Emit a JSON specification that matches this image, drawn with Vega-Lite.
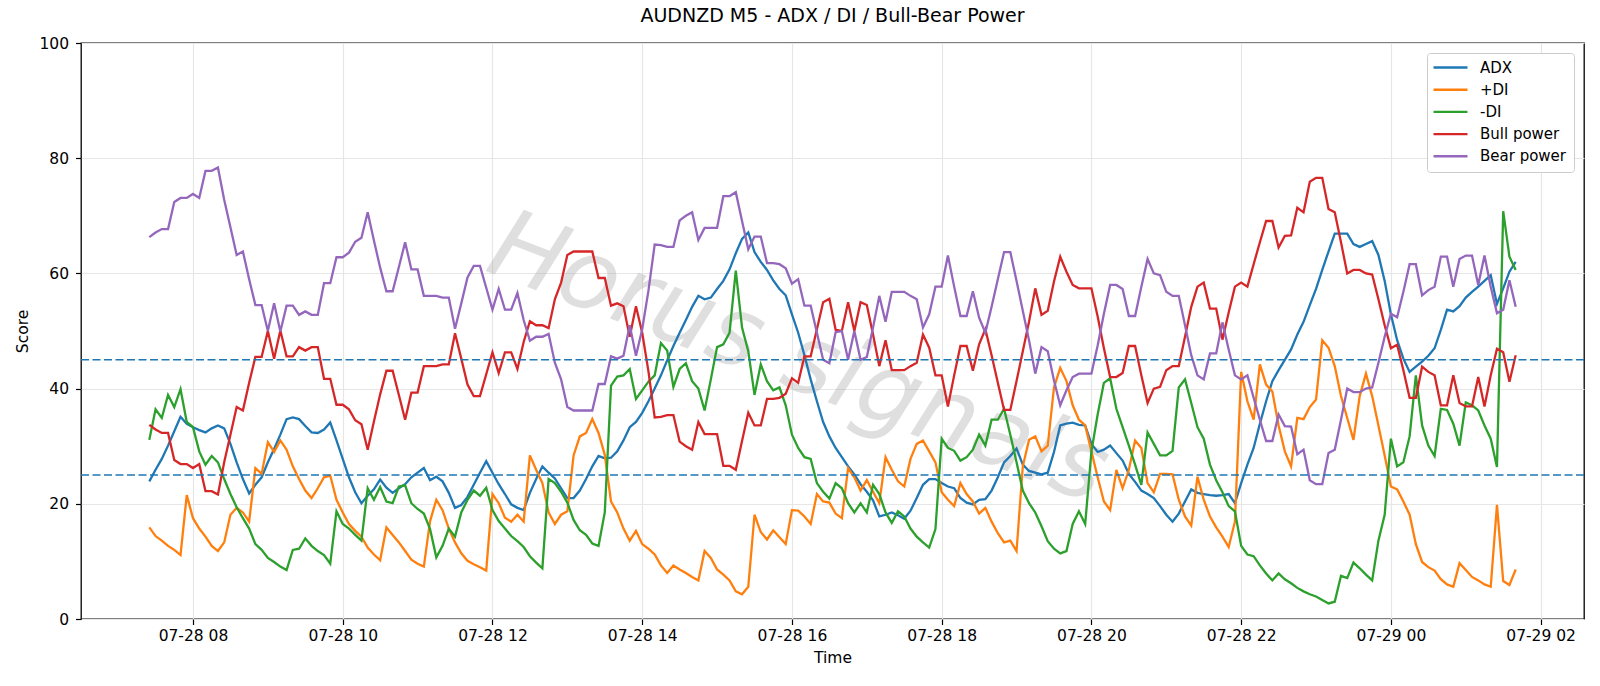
{
  "$schema": "https://vega.github.io/schema/vega-lite/v6.json",
  "width": 1503,
  "height": 576,
  "autosize": {"type": "none"},
  "padding": {"left": 81, "top": 43, "right": 16, "bottom": 67},
  "background": "white",
  "title": {"text": "AUDNZD M5 - ADX / DI / Bull-Bear Power", "font": "DejaVu Sans", "fontSize": 19, "fontWeight": "normal", "color": "#000000", "offset": 10, "anchor": "middle"},
  "config": {
    "font": "DejaVu Sans",
    "view": {"stroke": "#000000", "strokeWidth": 1.3},
    "axis": {"domain": false, "grid": true, "gridColor": "#e6e6e6", "gridWidth": 1.2, "tickColor": "#000000", "tickWidth": 1.2, "tickSize": 5.5, "labelFont": "DejaVu Sans", "labelFontSize": 15.5, "labelColor": "#000000", "titleFont": "DejaVu Sans", "titleFontSize": 15.5, "titleFontWeight": "normal", "titleColor": "#000000"},
    "axisX": {"labelPadding": 4, "titlePadding": 6, "labelFlush": false, "labelOverlap": false},
    "axisY": {"labelPadding": 7, "titlePadding": 8},
    "legend": {"orient": "top-right", "offset": 10, "symbolType": "M-2.83,0H2.83", "symbolSize": 144, "symbolOffset": 9, "symbolStrokeWidth": 2.4, "labelFont": "DejaVu Sans", "labelFontSize": 15, "labelColor": "#000000", "labelOffset": 22, "rowPadding": 6.2, "padding": 7, "strokeColor": "#cccccc", "fillColor": "#ffffff", "cornerRadius": 3, "labelLimit": 300}
  },
  "datasets": {
    "d": [
      {"t":"2025-07-28T07:25:00Z","adx":23.9,"pdi":15.9,"mdi":31.1,"bull":33.7,"bear":66.3},
      {"t":"2025-07-28T07:30:00Z","adx":25.9,"pdi":14.4,"mdi":36.4,"bull":32.9,"bear":67.1},
      {"t":"2025-07-28T07:35:00Z","adx":27.8,"pdi":13.6,"mdi":34.9,"bull":32.3,"bear":67.7},
      {"t":"2025-07-28T07:40:00Z","adx":30.1,"pdi":12.7,"mdi":38.9,"bull":32.3,"bear":67.7},
      {"t":"2025-07-28T07:45:00Z","adx":32.6,"pdi":12.0,"mdi":36.8,"bull":27.6,"bear":72.4},
      {"t":"2025-07-28T07:50:00Z","adx":35.1,"pdi":11.1,"mdi":39.9,"bull":26.9,"bear":73.1},
      {"t":"2025-07-28T07:55:00Z","adx":33.9,"pdi":21.5,"mdi":34.2,"bull":26.9,"bear":73.1},
      {"t":"2025-07-28T08:00:00Z","adx":33.3,"pdi":17.5,"mdi":33.3,"bull":26.2,"bear":73.8},
      {"t":"2025-07-28T08:05:00Z","adx":32.8,"pdi":15.7,"mdi":29.1,"bull":26.9,"bear":73.1},
      {"t":"2025-07-28T08:10:00Z","adx":32.4,"pdi":14.3,"mdi":26.8,"bull":22.2,"bear":77.8},
      {"t":"2025-07-28T08:15:00Z","adx":33.1,"pdi":12.7,"mdi":28.3,"bull":22.2,"bear":77.8},
      {"t":"2025-07-28T08:20:00Z","adx":33.6,"pdi":11.8,"mdi":27.2,"bull":21.6,"bear":78.4},
      {"t":"2025-07-28T08:25:00Z","adx":33.1,"pdi":13.3,"mdi":24.3,"bull":27.2,"bear":72.8},
      {"t":"2025-07-28T08:30:00Z","adx":30.4,"pdi":18.1,"mdi":21.7,"bull":32.0,"bear":68.0},
      {"t":"2025-07-28T08:35:00Z","adx":27.2,"pdi":19.3,"mdi":19.4,"bull":36.8,"bear":63.2},
      {"t":"2025-07-28T08:40:00Z","adx":24.3,"pdi":18.5,"mdi":17.5,"bull":36.2,"bear":63.8},
      {"t":"2025-07-28T08:45:00Z","adx":21.8,"pdi":16.9,"mdi":15.7,"bull":41.0,"bear":59.0},
      {"t":"2025-07-28T08:50:00Z","adx":23.3,"pdi":26.2,"mdi":13.0,"bull":45.5,"bear":54.5},
      {"t":"2025-07-28T08:55:00Z","adx":24.6,"pdi":25.2,"mdi":12.0,"bull":45.5,"bear":54.5},
      {"t":"2025-07-28T09:00:00Z","adx":27.2,"pdi":30.7,"mdi":10.6,"bull":50.0,"bear":50.0},
      {"t":"2025-07-28T09:05:00Z","adx":29.5,"pdi":29.0,"mdi":9.9,"bull":45.2,"bear":54.8},
      {"t":"2025-07-28T09:10:00Z","adx":32.0,"pdi":31.0,"mdi":9.1,"bull":50.1,"bear":49.9},
      {"t":"2025-07-28T09:15:00Z","adx":34.7,"pdi":29.4,"mdi":8.5,"bull":45.6,"bear":54.4},
      {"t":"2025-07-28T09:20:00Z","adx":35.0,"pdi":26.5,"mdi":12.0,"bull":45.6,"bear":54.4},
      {"t":"2025-07-28T09:25:00Z","adx":34.7,"pdi":24.3,"mdi":12.2,"bull":47.2,"bear":52.8},
      {"t":"2025-07-28T09:30:00Z","adx":33.5,"pdi":22.3,"mdi":14.0,"bull":46.6,"bear":53.4},
      {"t":"2025-07-28T09:35:00Z","adx":32.4,"pdi":21.0,"mdi":12.7,"bull":47.2,"bear":52.8},
      {"t":"2025-07-28T09:40:00Z","adx":32.3,"pdi":22.7,"mdi":11.8,"bull":47.2,"bear":52.8},
      {"t":"2025-07-28T09:45:00Z","adx":32.9,"pdi":24.6,"mdi":11.1,"bull":41.7,"bear":58.3},
      {"t":"2025-07-28T09:50:00Z","adx":34.1,"pdi":24.9,"mdi":9.6,"bull":41.7,"bear":58.3},
      {"t":"2025-07-28T09:55:00Z","adx":31.0,"pdi":20.7,"mdi":18.7,"bull":37.2,"bear":62.8},
      {"t":"2025-07-28T10:00:00Z","adx":27.8,"pdi":18.5,"mdi":16.5,"bull":37.2,"bear":62.8},
      {"t":"2025-07-28T10:05:00Z","adx":24.6,"pdi":16.5,"mdi":15.7,"bull":36.4,"bear":63.6},
      {"t":"2025-07-28T10:10:00Z","adx":22.0,"pdi":15.3,"mdi":14.6,"bull":34.5,"bear":65.5},
      {"t":"2025-07-28T10:15:00Z","adx":20.1,"pdi":14.3,"mdi":13.6,"bull":33.8,"bear":66.2},
      {"t":"2025-07-28T10:20:00Z","adx":21.4,"pdi":12.4,"mdi":22.7,"bull":29.4,"bear":70.6},
      {"t":"2025-07-28T10:25:00Z","adx":22.5,"pdi":11.2,"mdi":20.7,"bull":34.3,"bear":65.7},
      {"t":"2025-07-28T10:30:00Z","adx":24.2,"pdi":10.2,"mdi":22.9,"bull":39.0,"bear":61.0},
      {"t":"2025-07-28T10:35:00Z","adx":22.8,"pdi":15.9,"mdi":20.4,"bull":43.1,"bear":56.9},
      {"t":"2025-07-28T10:40:00Z","adx":21.9,"pdi":14.6,"mdi":20.1,"bull":43.1,"bear":56.9},
      {"t":"2025-07-28T10:45:00Z","adx":22.7,"pdi":13.3,"mdi":23.0,"bull":38.9,"bear":61.1},
      {"t":"2025-07-28T10:50:00Z","adx":23.4,"pdi":11.8,"mdi":23.2,"bull":34.6,"bear":65.4},
      {"t":"2025-07-28T10:55:00Z","adx":24.6,"pdi":10.3,"mdi":20.1,"bull":39.3,"bear":60.7},
      {"t":"2025-07-28T11:00:00Z","adx":25.4,"pdi":9.6,"mdi":19.1,"bull":39.3,"bear":60.7},
      {"t":"2025-07-28T11:05:00Z","adx":26.2,"pdi":9.1,"mdi":18.3,"bull":43.9,"bear":56.1},
      {"t":"2025-07-28T11:10:00Z","adx":24.1,"pdi":17.0,"mdi":15.6,"bull":43.9,"bear":56.1},
      {"t":"2025-07-28T11:15:00Z","adx":24.7,"pdi":20.7,"mdi":10.7,"bull":43.9,"bear":56.1},
      {"t":"2025-07-28T11:20:00Z","adx":23.9,"pdi":18.9,"mdi":12.7,"bull":44.2,"bear":55.8},
      {"t":"2025-07-28T11:25:00Z","adx":21.9,"pdi":15.7,"mdi":15.7,"bull":44.2,"bear":55.8},
      {"t":"2025-07-28T11:30:00Z","adx":19.3,"pdi":13.3,"mdi":14.3,"bull":49.6,"bear":50.4},
      {"t":"2025-07-28T11:35:00Z","adx":19.8,"pdi":11.4,"mdi":18.5,"bull":45.2,"bear":54.8},
      {"t":"2025-07-28T11:40:00Z","adx":21.2,"pdi":10.1,"mdi":20.7,"bull":40.7,"bear":59.3},
      {"t":"2025-07-28T11:45:00Z","adx":23.3,"pdi":9.5,"mdi":22.3,"bull":38.7,"bear":61.3},
      {"t":"2025-07-28T11:50:00Z","adx":25.4,"pdi":9.0,"mdi":21.4,"bull":38.7,"bear":61.3},
      {"t":"2025-07-28T11:55:00Z","adx":27.4,"pdi":8.4,"mdi":22.8,"bull":42.5,"bear":57.5},
      {"t":"2025-07-28T12:00:00Z","adx":25.4,"pdi":21.7,"mdi":18.9,"bull":46.3,"bear":53.7},
      {"t":"2025-07-28T12:05:00Z","adx":23.4,"pdi":20.1,"mdi":17.0,"bull":42.7,"bear":57.3},
      {"t":"2025-07-28T12:10:00Z","adx":21.7,"pdi":17.6,"mdi":15.7,"bull":46.3,"bear":53.7},
      {"t":"2025-07-28T12:15:00Z","adx":19.9,"pdi":16.9,"mdi":14.4,"bull":46.3,"bear":53.7},
      {"t":"2025-07-28T12:20:00Z","adx":19.3,"pdi":18.1,"mdi":13.5,"bull":43.4,"bear":56.6},
      {"t":"2025-07-28T12:25:00Z","adx":18.9,"pdi":16.9,"mdi":12.5,"bull":48.1,"bear":51.9},
      {"t":"2025-07-28T12:30:00Z","adx":21.9,"pdi":28.4,"mdi":10.9,"bull":51.7,"bear":48.3},
      {"t":"2025-07-28T12:35:00Z","adx":24.3,"pdi":25.9,"mdi":9.8,"bull":51.0,"bear":49.0},
      {"t":"2025-07-28T12:40:00Z","adx":26.5,"pdi":23.6,"mdi":8.8,"bull":51.0,"bear":49.0},
      {"t":"2025-07-28T12:45:00Z","adx":25.4,"pdi":18.5,"mdi":24.3,"bull":50.5,"bear":49.5},
      {"t":"2025-07-28T12:50:00Z","adx":24.4,"pdi":16.5,"mdi":23.6,"bull":55.5,"bear":44.5},
      {"t":"2025-07-28T12:55:00Z","adx":22.7,"pdi":18.1,"mdi":22.1,"bull":58.4,"bear":41.6},
      {"t":"2025-07-28T13:00:00Z","adx":21.0,"pdi":18.7,"mdi":20.2,"bull":63.2,"bear":36.8},
      {"t":"2025-07-28T13:05:00Z","adx":21.0,"pdi":28.4,"mdi":17.2,"bull":63.8,"bear":36.2},
      {"t":"2025-07-28T13:10:00Z","adx":22.3,"pdi":31.7,"mdi":15.4,"bull":63.8,"bear":36.2},
      {"t":"2025-07-28T13:15:00Z","adx":24.3,"pdi":32.3,"mdi":14.6,"bull":63.8,"bear":36.2},
      {"t":"2025-07-28T13:20:00Z","adx":26.5,"pdi":34.7,"mdi":13.1,"bull":63.8,"bear":36.2},
      {"t":"2025-07-28T13:25:00Z","adx":28.3,"pdi":32.3,"mdi":12.7,"bull":59.2,"bear":40.8},
      {"t":"2025-07-28T13:30:00Z","adx":27.9,"pdi":28.5,"mdi":18.5,"bull":59.2,"bear":40.8},
      {"t":"2025-07-28T13:35:00Z","adx":28.0,"pdi":20.4,"mdi":40.5,"bull":54.4,"bear":45.6},
      {"t":"2025-07-28T13:40:00Z","adx":29.1,"pdi":18.5,"mdi":42.1,"bull":54.8,"bear":45.2},
      {"t":"2025-07-28T13:45:00Z","adx":31.0,"pdi":15.7,"mdi":42.3,"bull":54.3,"bear":45.7},
      {"t":"2025-07-28T13:50:00Z","adx":33.3,"pdi":13.6,"mdi":43.4,"bull":49.0,"bear":51.0},
      {"t":"2025-07-28T13:55:00Z","adx":34.2,"pdi":15.3,"mdi":38.2,"bull":54.3,"bear":45.7},
      {"t":"2025-07-28T14:00:00Z","adx":35.8,"pdi":13.0,"mdi":39.7,"bull":49.7,"bear":50.3},
      {"t":"2025-07-28T14:05:00Z","adx":37.8,"pdi":12.2,"mdi":41.2,"bull":43.0,"bear":57.0},
      {"t":"2025-07-28T14:10:00Z","adx":40.0,"pdi":11.2,"mdi":42.3,"bull":35.0,"bear":65.0},
      {"t":"2025-07-28T14:15:00Z","adx":42.3,"pdi":9.3,"mdi":47.9,"bull":35.1,"bear":64.9},
      {"t":"2025-07-28T14:20:00Z","adx":44.9,"pdi":8.0,"mdi":46.6,"bull":35.4,"bear":64.6},
      {"t":"2025-07-28T14:25:00Z","adx":47.4,"pdi":9.3,"mdi":40.3,"bull":35.4,"bear":64.6},
      {"t":"2025-07-28T14:30:00Z","adx":49.7,"pdi":8.6,"mdi":43.4,"bull":30.8,"bear":69.2},
      {"t":"2025-07-28T14:35:00Z","adx":51.9,"pdi":8.0,"mdi":44.4,"bull":30.0,"bear":70.0},
      {"t":"2025-07-28T14:40:00Z","adx":54.2,"pdi":7.3,"mdi":41.3,"bull":29.4,"bear":70.6},
      {"t":"2025-07-28T14:45:00Z","adx":56.1,"pdi":6.7,"mdi":40.0,"bull":34.2,"bear":65.8},
      {"t":"2025-07-28T14:50:00Z","adx":55.5,"pdi":11.8,"mdi":36.2,"bull":32.1,"bear":67.9},
      {"t":"2025-07-28T14:55:00Z","adx":55.8,"pdi":10.6,"mdi":41.6,"bull":32.1,"bear":67.9},
      {"t":"2025-07-28T15:00:00Z","adx":57.3,"pdi":8.6,"mdi":47.2,"bull":32.1,"bear":67.9},
      {"t":"2025-07-28T15:05:00Z","adx":58.7,"pdi":7.7,"mdi":47.7,"bull":26.6,"bear":73.4},
      {"t":"2025-07-28T15:10:00Z","adx":60.7,"pdi":6.7,"mdi":49.7,"bull":26.6,"bear":73.4},
      {"t":"2025-07-28T15:15:00Z","adx":63.5,"pdi":4.8,"mdi":60.5,"bull":25.9,"bear":74.1},
      {"t":"2025-07-28T15:20:00Z","adx":66.0,"pdi":4.3,"mdi":50.6,"bull":30.9,"bear":69.1},
      {"t":"2025-07-28T15:25:00Z","adx":67.1,"pdi":5.6,"mdi":46.5,"bull":35.8,"bear":64.2},
      {"t":"2025-07-28T15:30:00Z","adx":63.7,"pdi":18.1,"mdi":38.9,"bull":33.6,"bear":66.4},
      {"t":"2025-07-28T15:35:00Z","adx":62.0,"pdi":15.1,"mdi":44.2,"bull":33.6,"bear":66.4},
      {"t":"2025-07-28T15:40:00Z","adx":60.6,"pdi":13.8,"mdi":41.3,"bull":38.2,"bear":61.8},
      {"t":"2025-07-28T15:45:00Z","adx":58.8,"pdi":15.4,"mdi":39.7,"bull":38.2,"bear":61.8},
      {"t":"2025-07-28T15:50:00Z","adx":57.3,"pdi":14.2,"mdi":40.2,"bull":38.4,"bear":61.6},
      {"t":"2025-07-28T15:55:00Z","adx":56.2,"pdi":13.0,"mdi":37.1,"bull":39.1,"bear":60.9},
      {"t":"2025-07-28T16:00:00Z","adx":52.9,"pdi":18.9,"mdi":32.0,"bull":41.8,"bear":58.2},
      {"t":"2025-07-28T16:05:00Z","adx":49.7,"pdi":18.8,"mdi":29.7,"bull":41.0,"bear":59.0},
      {"t":"2025-07-28T16:10:00Z","adx":45.8,"pdi":17.8,"mdi":28.1,"bull":45.6,"bear":54.4},
      {"t":"2025-07-28T16:15:00Z","adx":41.6,"pdi":16.5,"mdi":27.8,"bull":45.6,"bear":54.4},
      {"t":"2025-07-28T16:20:00Z","adx":37.8,"pdi":21.7,"mdi":23.6,"bull":50.3,"bear":49.7},
      {"t":"2025-07-28T16:25:00Z","adx":34.2,"pdi":20.4,"mdi":22.1,"bull":55.0,"bear":45.0},
      {"t":"2025-07-28T16:30:00Z","adx":31.7,"pdi":20.2,"mdi":20.9,"bull":55.6,"bear":44.4},
      {"t":"2025-07-28T16:35:00Z","adx":29.7,"pdi":18.3,"mdi":23.6,"bull":50.2,"bear":49.8},
      {"t":"2025-07-28T16:40:00Z","adx":28.1,"pdi":17.5,"mdi":22.7,"bull":50.0,"bear":50.0},
      {"t":"2025-07-28T16:45:00Z","adx":26.5,"pdi":26.2,"mdi":20.1,"bull":55.0,"bear":45.0},
      {"t":"2025-07-28T16:50:00Z","adx":25.1,"pdi":24.6,"mdi":18.5,"bull":50.0,"bear":50.0},
      {"t":"2025-07-28T16:55:00Z","adx":23.4,"pdi":22.3,"mdi":20.1,"bull":55.0,"bear":45.0},
      {"t":"2025-07-28T17:00:00Z","adx":22.1,"pdi":24.1,"mdi":18.5,"bull":54.5,"bear":45.5},
      {"t":"2025-07-28T17:05:00Z","adx":20.6,"pdi":22.1,"mdi":23.3,"bull":49.4,"bear":50.6},
      {"t":"2025-07-28T17:10:00Z","adx":17.8,"pdi":20.1,"mdi":21.7,"bull":43.9,"bear":56.1},
      {"t":"2025-07-28T17:15:00Z","adx":18.1,"pdi":28.1,"mdi":18.5,"bull":48.4,"bear":51.6},
      {"t":"2025-07-28T17:20:00Z","adx":18.5,"pdi":25.9,"mdi":16.7,"bull":43.2,"bear":56.8},
      {"t":"2025-07-28T17:25:00Z","adx":18.0,"pdi":23.9,"mdi":18.7,"bull":43.2,"bear":56.8},
      {"t":"2025-07-28T17:30:00Z","adx":17.4,"pdi":23.0,"mdi":17.8,"bull":43.2,"bear":56.8},
      {"t":"2025-07-28T17:35:00Z","adx":18.8,"pdi":27.8,"mdi":15.7,"bull":43.9,"bear":56.1},
      {"t":"2025-07-28T17:40:00Z","adx":21.0,"pdi":30.4,"mdi":14.3,"bull":44.5,"bear":55.5},
      {"t":"2025-07-28T17:45:00Z","adx":23.3,"pdi":31.0,"mdi":13.3,"bull":49.4,"bear":50.6},
      {"t":"2025-07-28T17:50:00Z","adx":24.3,"pdi":29.1,"mdi":12.4,"bull":47.1,"bear":52.9},
      {"t":"2025-07-28T17:55:00Z","adx":24.3,"pdi":27.2,"mdi":15.6,"bull":42.3,"bear":57.7},
      {"t":"2025-07-28T18:00:00Z","adx":23.6,"pdi":22.0,"mdi":31.3,"bull":42.3,"bear":57.7},
      {"t":"2025-07-28T18:05:00Z","adx":23.0,"pdi":20.7,"mdi":29.7,"bull":36.9,"bear":63.1},
      {"t":"2025-07-28T18:10:00Z","adx":22.7,"pdi":19.6,"mdi":29.2,"bull":42.3,"bear":57.7},
      {"t":"2025-07-28T18:15:00Z","adx":21.0,"pdi":23.6,"mdi":27.5,"bull":47.4,"bear":52.6},
      {"t":"2025-07-28T18:20:00Z","adx":20.2,"pdi":21.7,"mdi":28.1,"bull":47.4,"bear":52.6},
      {"t":"2025-07-28T18:25:00Z","adx":19.9,"pdi":20.4,"mdi":29.4,"bull":43.1,"bear":56.9},
      {"t":"2025-07-28T18:30:00Z","adx":20.7,"pdi":18.3,"mdi":32.0,"bull":47.7,"bear":52.3},
      {"t":"2025-07-28T18:35:00Z","adx":20.8,"pdi":19.3,"mdi":30.1,"bull":50.3,"bear":49.7},
      {"t":"2025-07-28T18:40:00Z","adx":22.3,"pdi":16.9,"mdi":34.6,"bull":45.8,"bear":54.2},
      {"t":"2025-07-28T18:45:00Z","adx":24.6,"pdi":14.9,"mdi":34.6,"bull":41.0,"bear":59.0},
      {"t":"2025-07-28T18:50:00Z","adx":27.2,"pdi":13.3,"mdi":36.5,"bull":36.3,"bear":63.7},
      {"t":"2025-07-28T18:55:00Z","adx":28.3,"pdi":13.6,"mdi":32.0,"bull":36.3,"bear":63.7},
      {"t":"2025-07-28T19:00:00Z","adx":29.6,"pdi":11.8,"mdi":27.2,"bull":41.3,"bear":58.7},
      {"t":"2025-07-28T19:05:00Z","adx":26.8,"pdi":26.5,"mdi":22.3,"bull":46.5,"bear":53.5},
      {"t":"2025-07-28T19:10:00Z","adx":25.7,"pdi":31.1,"mdi":20.1,"bull":51.6,"bear":48.4},
      {"t":"2025-07-28T19:15:00Z","adx":25.4,"pdi":31.7,"mdi":18.5,"bull":57.4,"bear":42.6},
      {"t":"2025-07-28T19:20:00Z","adx":25.1,"pdi":29.1,"mdi":16.1,"bull":52.8,"bear":47.2},
      {"t":"2025-07-28T19:25:00Z","adx":25.4,"pdi":30.1,"mdi":13.5,"bull":53.5,"bear":46.5},
      {"t":"2025-07-28T19:30:00Z","adx":29.0,"pdi":40.2,"mdi":12.2,"bull":58.6,"bear":41.4},
      {"t":"2025-07-28T19:35:00Z","adx":33.6,"pdi":43.6,"mdi":11.4,"bull":62.9,"bear":37.1},
      {"t":"2025-07-28T19:40:00Z","adx":33.9,"pdi":41.3,"mdi":11.8,"bull":60.3,"bear":39.7},
      {"t":"2025-07-28T19:45:00Z","adx":34.1,"pdi":37.1,"mdi":16.5,"bull":58.0,"bear":42.0},
      {"t":"2025-07-28T19:50:00Z","adx":33.7,"pdi":34.6,"mdi":18.7,"bull":57.4,"bear":42.6},
      {"t":"2025-07-28T19:55:00Z","adx":33.6,"pdi":33.6,"mdi":16.5,"bull":57.4,"bear":42.6},
      {"t":"2025-07-28T20:00:00Z","adx":30.4,"pdi":29.1,"mdi":29.1,"bull":57.4,"bear":42.6},
      {"t":"2025-07-28T20:05:00Z","adx":29.0,"pdi":24.6,"mdi":35.5,"bull":52.5,"bear":47.5},
      {"t":"2025-07-28T20:10:00Z","adx":29.4,"pdi":20.4,"mdi":41.0,"bull":47.0,"bear":53.0},
      {"t":"2025-07-28T20:15:00Z","adx":30.1,"pdi":18.9,"mdi":41.8,"bull":42.0,"bear":58.0},
      {"t":"2025-07-28T20:20:00Z","adx":28.8,"pdi":25.9,"mdi":36.5,"bull":42.0,"bear":58.0},
      {"t":"2025-07-28T20:25:00Z","adx":27.5,"pdi":22.7,"mdi":33.3,"bull":42.7,"bear":57.3},
      {"t":"2025-07-28T20:30:00Z","adx":25.2,"pdi":25.9,"mdi":30.1,"bull":47.4,"bear":52.6},
      {"t":"2025-07-28T20:35:00Z","adx":23.8,"pdi":31.0,"mdi":26.8,"bull":47.4,"bear":52.6},
      {"t":"2025-07-28T20:40:00Z","adx":22.3,"pdi":29.7,"mdi":23.3,"bull":42.3,"bear":57.7},
      {"t":"2025-07-28T20:45:00Z","adx":21.7,"pdi":23.6,"mdi":32.4,"bull":37.5,"bear":62.5},
      {"t":"2025-07-28T20:50:00Z","adx":21.0,"pdi":22.0,"mdi":30.4,"bull":40.0,"bear":60.0},
      {"t":"2025-07-28T20:55:00Z","adx":19.6,"pdi":25.2,"mdi":28.4,"bull":40.3,"bear":59.7},
      {"t":"2025-07-28T21:00:00Z","adx":18.1,"pdi":25.2,"mdi":28.4,"bull":43.2,"bear":56.8},
      {"t":"2025-07-28T21:05:00Z","adx":16.9,"pdi":25.1,"mdi":29.2,"bull":43.9,"bear":56.1},
      {"t":"2025-07-28T21:10:00Z","adx":18.3,"pdi":20.7,"mdi":40.2,"bull":43.9,"bear":56.1},
      {"t":"2025-07-28T21:15:00Z","adx":20.4,"pdi":17.8,"mdi":41.6,"bull":49.0,"bear":51.0},
      {"t":"2025-07-28T21:20:00Z","adx":22.5,"pdi":16.2,"mdi":37.5,"bull":54.2,"bear":45.8},
      {"t":"2025-07-28T21:25:00Z","adx":21.9,"pdi":24.7,"mdi":33.3,"bull":57.7,"bear":42.3},
      {"t":"2025-07-28T21:30:00Z","adx":21.7,"pdi":20.7,"mdi":31.3,"bull":58.4,"bear":41.6},
      {"t":"2025-07-28T21:35:00Z","adx":21.5,"pdi":17.8,"mdi":26.8,"bull":53.9,"bear":46.1},
      {"t":"2025-07-28T21:40:00Z","adx":21.4,"pdi":15.9,"mdi":24.1,"bull":53.9,"bear":46.1},
      {"t":"2025-07-28T21:45:00Z","adx":21.5,"pdi":14.3,"mdi":22.0,"bull":48.5,"bear":51.5},
      {"t":"2025-07-28T21:50:00Z","adx":21.7,"pdi":12.5,"mdi":19.6,"bull":53.2,"bear":46.8},
      {"t":"2025-07-28T21:55:00Z","adx":20.1,"pdi":16.9,"mdi":18.7,"bull":57.7,"bear":42.3},
      {"t":"2025-07-28T22:00:00Z","adx":23.6,"pdi":42.9,"mdi":12.7,"bull":58.4,"bear":41.6},
      {"t":"2025-07-28T22:05:00Z","adx":26.8,"pdi":37.8,"mdi":11.2,"bull":57.7,"bear":42.3},
      {"t":"2025-07-28T22:10:00Z","adx":29.7,"pdi":34.6,"mdi":10.9,"bull":61.6,"bear":38.4},
      {"t":"2025-07-28T22:15:00Z","adx":33.9,"pdi":44.2,"mdi":9.3,"bull":65.4,"bear":34.6},
      {"t":"2025-07-28T22:20:00Z","adx":37.8,"pdi":40.7,"mdi":7.9,"bull":69.1,"bear":30.9},
      {"t":"2025-07-28T22:25:00Z","adx":41.3,"pdi":39.5,"mdi":6.7,"bull":69.1,"bear":30.9},
      {"t":"2025-07-28T22:30:00Z","adx":43.2,"pdi":33.6,"mdi":7.9,"bull":64.5,"bear":35.5},
      {"t":"2025-07-28T22:35:00Z","adx":45.0,"pdi":29.1,"mdi":6.9,"bull":66.5,"bear":33.5},
      {"t":"2025-07-28T22:40:00Z","adx":46.8,"pdi":26.5,"mdi":6.2,"bull":66.6,"bear":33.4},
      {"t":"2025-07-28T22:45:00Z","adx":49.4,"pdi":34.9,"mdi":5.4,"bull":71.4,"bear":28.6},
      {"t":"2025-07-28T22:50:00Z","adx":51.6,"pdi":34.7,"mdi":4.8,"bull":70.6,"bear":29.4},
      {"t":"2025-07-28T22:55:00Z","adx":54.5,"pdi":36.8,"mdi":4.3,"bull":75.9,"bear":24.1},
      {"t":"2025-07-28T23:00:00Z","adx":57.3,"pdi":38.1,"mdi":3.9,"bull":76.6,"bear":23.4},
      {"t":"2025-07-28T23:05:00Z","adx":60.6,"pdi":48.4,"mdi":3.3,"bull":76.6,"bear":23.4},
      {"t":"2025-07-28T23:10:00Z","adx":63.8,"pdi":47.1,"mdi":2.7,"bull":71.2,"bear":28.8},
      {"t":"2025-07-28T23:15:00Z","adx":66.9,"pdi":43.9,"mdi":3.0,"bull":70.6,"bear":29.4},
      {"t":"2025-07-28T23:20:00Z","adx":66.9,"pdi":38.7,"mdi":7.5,"bull":65.4,"bear":34.6},
      {"t":"2025-07-28T23:25:00Z","adx":66.9,"pdi":34.9,"mdi":7.1,"bull":60.0,"bear":40.0},
      {"t":"2025-07-28T23:30:00Z","adx":65.1,"pdi":31.1,"mdi":9.8,"bull":60.6,"bear":39.4},
      {"t":"2025-07-28T23:35:00Z","adx":64.6,"pdi":38.7,"mdi":8.8,"bull":60.6,"bear":39.4},
      {"t":"2025-07-28T23:40:00Z","adx":65.1,"pdi":42.6,"mdi":7.7,"bull":60.0,"bear":40.0},
      {"t":"2025-07-28T23:45:00Z","adx":65.6,"pdi":38.7,"mdi":6.7,"bull":59.8,"bear":40.2},
      {"t":"2025-07-28T23:50:00Z","adx":63.2,"pdi":33.6,"mdi":13.6,"bull":55.5,"bear":44.5},
      {"t":"2025-07-28T23:55:00Z","adx":58.7,"pdi":28.4,"mdi":18.1,"bull":51.0,"bear":49.0},
      {"t":"2025-07-29T00:00:00Z","adx":52.9,"pdi":23.0,"mdi":31.3,"bull":47.0,"bear":53.0},
      {"t":"2025-07-29T00:05:00Z","adx":48.4,"pdi":22.5,"mdi":26.5,"bull":47.6,"bear":52.4},
      {"t":"2025-07-29T00:10:00Z","adx":45.2,"pdi":20.4,"mdi":27.2,"bull":43.2,"bear":56.8},
      {"t":"2025-07-29T00:15:00Z","adx":42.9,"pdi":18.1,"mdi":31.7,"bull":38.4,"bear":61.6},
      {"t":"2025-07-29T00:20:00Z","adx":43.8,"pdi":13.0,"mdi":42.3,"bull":38.4,"bear":61.6},
      {"t":"2025-07-29T00:25:00Z","adx":44.7,"pdi":9.9,"mdi":33.6,"bull":43.8,"bear":56.2},
      {"t":"2025-07-29T00:30:00Z","adx":45.7,"pdi":9.0,"mdi":30.1,"bull":42.9,"bear":57.1},
      {"t":"2025-07-29T00:35:00Z","adx":47.0,"pdi":8.4,"mdi":28.3,"bull":42.3,"bear":57.7},
      {"t":"2025-07-29T00:40:00Z","adx":50.2,"pdi":6.9,"mdi":36.5,"bull":37.1,"bear":62.9},
      {"t":"2025-07-29T00:45:00Z","adx":53.7,"pdi":6.0,"mdi":36.3,"bull":37.1,"bear":62.9},
      {"t":"2025-07-29T00:50:00Z","adx":53.4,"pdi":5.6,"mdi":33.9,"bull":42.3,"bear":57.7},
      {"t":"2025-07-29T00:55:00Z","adx":54.3,"pdi":9.7,"mdi":30.1,"bull":37.5,"bear":62.5},
      {"t":"2025-07-29T01:00:00Z","adx":55.8,"pdi":8.5,"mdi":37.6,"bull":36.9,"bear":63.1},
      {"t":"2025-07-29T01:05:00Z","adx":56.8,"pdi":7.3,"mdi":37.1,"bull":36.9,"bear":63.1},
      {"t":"2025-07-29T01:10:00Z","adx":57.7,"pdi":6.7,"mdi":36.2,"bull":42.0,"bear":58.0},
      {"t":"2025-07-29T01:15:00Z","adx":58.7,"pdi":6.0,"mdi":33.6,"bull":36.9,"bear":63.1},
      {"t":"2025-07-29T01:20:00Z","adx":59.7,"pdi":5.6,"mdi":31.3,"bull":42.3,"bear":57.7},
      {"t":"2025-07-29T01:25:00Z","adx":54.7,"pdi":19.8,"mdi":26.4,"bull":46.9,"bear":53.1},
      {"t":"2025-07-29T01:30:00Z","adx":57.4,"pdi":6.6,"mdi":70.8,"bull":46.3,"bear":53.7},
      {"t":"2025-07-29T01:35:00Z","adx":60.3,"pdi":5.9,"mdi":62.9,"bull":41.2,"bear":58.8},
      {"t":"2025-07-29T01:40:00Z","adx":62.0,"pdi":8.6,"mdi":60.6,"bull":45.8,"bear":54.2}
    ]
  },
  "layer": [
    {
      "data": {"values": [{"t": "2025-07-28T16:05:00Z", "v": 45, "w": "Horus signals"}]},
      "mark": {"type": "text", "angle": 21, "fontSize": 97, "font": "DejaVu Sans", "fontWeight": 200, "fontStyle": "italic", "color": "#999999", "opacity": 0.3, "align": "center", "baseline": "middle"},
      "encoding": {
        "x": {"field": "t", "type": "temporal", "title": "Time"},
        "y": {"field": "v", "type": "quantitative", "title": "Score"},
        "text": {"field": "w"}
      }
    },
    {
      "data": {"name": "d"},
      "transform": [{"fold": ["adx", "pdi", "mdi", "bull", "bear"], "as": ["series", "value"]}],
      "mark": {"type": "line", "strokeWidth": 2.3},
      "encoding": {
        "x": {
          "field": "t", "type": "temporal", "title": "Time",
          "scale": {"type": "utc", "domain": [1753684215000, 1753756485000], "nice": false},
          "axis": {"values": [1753689600000, 1753696800000, 1753704000000, 1753711200000, 1753718400000, 1753725600000, 1753732800000, 1753740000000, 1753747200000, 1753754400000], "labelExpr": "utcFormat(datum.value, '%m-%d %H')"}
        },
        "y": {
          "field": "value", "type": "quantitative", "title": "Score",
          "scale": {"domain": [0, 100], "nice": false},
          "axis": {"values": [0, 20, 40, 60, 80, 100]}
        },
        "color": {
          "field": "series", "type": "nominal",
          "scale": {"domain": ["adx", "pdi", "mdi", "bull", "bear"], "range": ["#1f77b4", "#ff7f0e", "#2ca02c", "#d62728", "#9467bd"]},
          "legend": {"title": null, "labelExpr": "datum.label == 'adx' ? 'ADX' : datum.label == 'pdi' ? '+DI' : datum.label == 'mdi' ? '-DI' : datum.label == 'bull' ? 'Bull power' : 'Bear power'"}
        }
      }
    },
    {
      "data": {"values": [{"level": 25}, {"level": 45}]},
      "mark": {"type": "rule", "color": "#1f77b4", "strokeWidth": 1.5, "strokeDash": [8, 3.5]},
      "encoding": {
        "y": {"field": "level", "type": "quantitative", "title": "Score"}
      }
    }
  ]
}
